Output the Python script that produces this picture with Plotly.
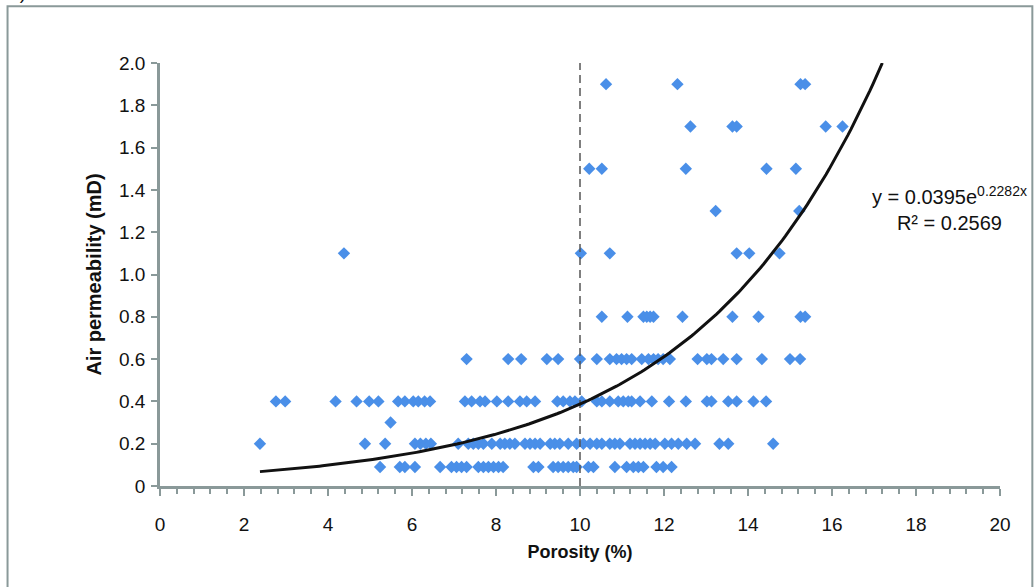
import numpy as np
import plotly.graph_objects as go

# Porosity (%) samples grouped by measured air permeability (mD)
perm_levels = [0.09, 0.2, 0.3, 0.4, 0.6, 0.8, 1.1, 1.3, 1.5, 1.7, 1.9]

por_009 = [5.24, 5.71, 5.83, 6.07, 6.67, 6.94, 7.06, 7.18, 7.30, 7.58, 7.70, 7.82,
           7.94, 8.06, 8.17, 8.89, 9.01, 9.36, 9.48, 9.60, 9.72, 9.84, 9.92, 10.20,
           10.32, 10.83, 11.11, 11.27, 11.39, 11.51, 11.82, 11.98, 12.18]
por_02 = [2.38, 4.88, 5.36, 6.07, 6.20, 6.33, 6.45, 7.10, 7.34, 7.46, 7.58, 7.70,
          7.90, 8.10, 8.21, 8.33, 8.45, 8.69, 8.81, 8.93, 9.05, 9.29, 9.40, 9.52,
          9.72, 9.92, 10.08, 10.24, 10.40, 10.52, 10.71, 10.83, 10.95, 11.19, 11.31,
          11.43, 11.55, 11.67, 11.79, 12.02, 12.18, 12.34, 12.54, 12.74, 13.32,
          13.53, 14.60]
por_03 = [5.49]
por_04 = [2.76, 2.98, 4.18, 4.68, 4.98, 5.20, 5.67, 5.83, 6.03, 6.15, 6.30, 6.43,
          7.26, 7.42, 7.62, 7.74, 8.02, 8.29, 8.57, 8.73, 8.93, 9.46, 9.60, 9.76,
          9.88, 10.04, 10.40, 10.52, 10.71, 10.91, 11.03, 11.15, 11.23, 11.43,
          11.71, 12.12, 12.52, 13.02, 13.13, 13.53, 13.73, 14.13, 14.43]
por_06 = [7.30, 8.29, 8.60, 9.21, 9.48, 10.00, 10.40, 10.71, 10.87, 10.99, 11.11,
          11.23, 11.47, 11.63, 11.75, 11.86, 11.98, 12.14, 12.80, 13.02, 13.13,
          13.41, 13.73, 14.33, 15.00, 15.24]
por_08 = [10.52, 11.13, 11.51, 11.59, 11.67, 11.75, 12.44, 13.63, 14.25, 15.25, 15.36]
por_11 = [4.38, 10.02, 10.71, 13.73, 14.03, 14.75]
por_13 = [13.23, 15.22]
por_15 = [10.22, 10.52, 12.52, 14.44, 15.14]
por_17 = [12.63, 13.63, 13.73, 15.85, 16.25]
por_19 = [10.62, 12.32, 15.25, 15.36]

por_groups = [por_009, por_02, por_03, por_04, por_06, por_08,
              por_11, por_13, por_15, por_17, por_19]

porosity = [p for grp in por_groups for p in grp]
permeability = [lvl for lvl, grp in zip(perm_levels, por_groups) for _ in grp]

# Exponential trendline y = a * exp(b * x)
trend_a, trend_b = 0.0395, 0.2282
trend_r2 = 0.2569
trend_x = np.linspace(2.38, np.log(2.0 / trend_a) / trend_b, 200)
trend_y = trend_a * np.exp(trend_b * trend_x)

cutoff_porosity = 10

x_ticks = [0, 2, 4, 6, 8, 10, 12, 14, 16, 18, 20]
y_ticks = [0, 0.2, 0.4, 0.6, 0.8, 1.0, 1.2, 1.4, 1.6, 1.8, 2.0]
y_ticktext = ["0"] + [f"{v:.1f}" for v in y_ticks[1:]]

axis_grey = "#8a9999"
font_family = "Liberation Sans, Arial, sans-serif"

fig = go.Figure()

fig.add_trace(go.Scatter(
    x=porosity, y=permeability, mode="markers",
    marker=dict(symbol="diamond", size=9.5, color="#4a8fe8", line=dict(width=0)),
    showlegend=False, hoverinfo="x+y",
))

fig.add_trace(go.Scatter(
    x=[cutoff_porosity, cutoff_porosity], y=[0, 2.0], mode="lines",
    line=dict(color="#555555", width=1.5, dash="8px,5px"),
    showlegend=False, hoverinfo="skip",
))

fig.add_trace(go.Scatter(
    x=trend_x, y=trend_y, mode="lines",
    line=dict(color="#111111", width=3),
    showlegend=False, hoverinfo="skip",
))

fig.update_layout(
    width=1036, height=587,
    margin=dict(l=160, r=36, t=63, b=101),
    paper_bgcolor="white", plot_bgcolor="white",
    font=dict(family=font_family, size=19, color="#111111"),
    xaxis=dict(
        range=[0, 20], tickvals=x_ticks, showgrid=False, zeroline=False,
        showline=True, linecolor=axis_grey, linewidth=2.5,
        ticks="outside", ticklen=7, tickwidth=2, tickcolor=axis_grey,
        ticklabelstandoff=12,
        minor=dict(dtick=0.4, ticks="outside", ticklen=5, tickwidth=2, tickcolor=axis_grey),
        title=dict(text="<b>Porosity (%)</b>", standoff=12, font=dict(size=18)),
        tickfont=dict(size=19),
    ),
    yaxis=dict(
        range=[0, 2.0], tickvals=y_ticks, ticktext=y_ticktext, showgrid=False,
        zeroline=False, showline=True, linecolor=axis_grey, linewidth=2.5,
        ticks="outside", ticklen=6, tickwidth=2, tickcolor=axis_grey,
        ticklabelstandoff=2,
        title=dict(text="<b>Air permeability (mD)</b>", standoff=13, font=dict(size=20)),
        tickfont=dict(size=19),
    ),
)

# Trendline equation and fit quality
fig.add_annotation(
    xref="paper", yref="paper", x=0.94, y=0.655, xanchor="center", yanchor="middle",
    text=f"y = {trend_a:.4f}e<sup>{trend_b:.4f}x</sup><br>R² = {trend_r2:.4f}",
    showarrow=False, align="center", font=dict(size=20, color="#111111"),
)

# Panel label
fig.add_annotation(
    xref="paper", yref="paper", x=-0.185, y=1.0, xanchor="left", yanchor="bottom",
    yshift=58, text="A)", showarrow=False, font=dict(size=19, color="#111111"),
)

# Outer frame around the chart
fig.add_shape(
    type="rect", xref="paper", yref="paper",
    x0=-0.1815, x1=1.0385, y0=-0.26, y1=1.134,
    line=dict(color=axis_grey, width=2), fillcolor="rgba(0,0,0,0)", layer="below",
)

fig.write_html("out.html")
